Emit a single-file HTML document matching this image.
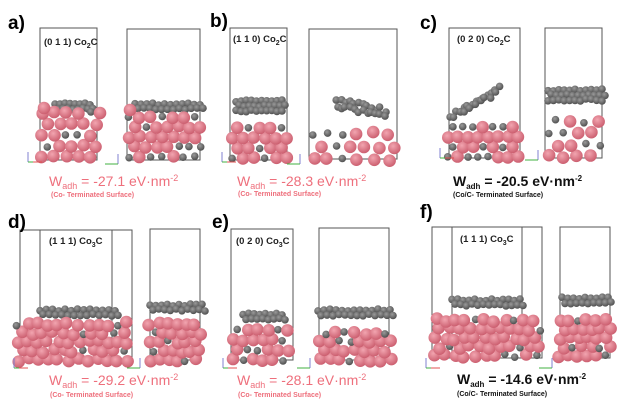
<!DOCTYPE html>
<html><head><meta charset="utf-8"><style>
body{margin:0;background:#fff;width:628px;height:409px;overflow:hidden}
svg{display:block}
.lbl{font-family:"Liberation Sans",sans-serif;font-weight:bold;font-size:19px;fill:#000}
.t{font-family:"Liberation Sans",sans-serif;font-weight:bold;font-size:9.5px;fill:#222}
.w{font-family:"Liberation Sans",sans-serif;font-size:14px}
.s{font-family:"Liberation Sans",sans-serif;font-size:7px;font-weight:bold}
</style></head><body>
<svg id="s" width="628" height="409" xmlns="http://www.w3.org/2000/svg">
<defs>
<radialGradient id="pk" cx="0.4" cy="0.35" r="0.7"><stop offset="0" stop-color="#f2a5b0"/><stop offset="1" stop-color="#c95a6b"/></radialGradient>
<radialGradient id="gy" cx="0.4" cy="0.35" r="0.7"><stop offset="0" stop-color="#9a9a9a"/><stop offset="1" stop-color="#4a4a4a"/></radialGradient>
</defs>
<g fill="none" stroke="#555" stroke-width="1">
<rect x="40" y="28" width="57" height="132"/><rect x="127" y="29" width="73" height="131"/>
<rect x="230" y="28" width="57" height="132"/><rect x="309" y="29" width="88" height="130"/>
<rect x="449" y="28" width="71" height="130"/><rect x="545" y="28" width="57" height="130"/>
<rect x="20" y="230" width="112" height="130"/><line x1="40" y1="230" x2="40" y2="360"/><line x1="112" y1="230" x2="112" y2="360"/><rect x="150" y="229" width="50" height="131"/>
<rect x="231" y="229" width="62" height="131"/><rect x="319" y="228" width="70" height="132"/>
<rect x="432" y="227" width="110" height="131"/><line x1="452" y1="227" x2="452" y2="358"/><line x1="522" y1="227" x2="522" y2="358"/><rect x="560" y="227" width="50" height="131"/>
</g>
<g id="atoms"></g>
<text class="lbl" x="8" y="29">a)</text><text class="lbl" x="210" y="27">b)</text><text class="lbl" x="420" y="29">c)</text>
<text class="lbl" x="8" y="228">d)</text><text class="lbl" x="212" y="228">e)</text><text class="lbl" x="420" y="218">f)</text>
<text class="t" x="44" y="45">(0 1 1) Co<tspan font-size="7" dy="3">2</tspan><tspan dy="-3">C</tspan></text>
<text class="t" x="233" y="42">(1 1 0) Co<tspan font-size="7" dy="3">2</tspan><tspan dy="-3">C</tspan></text>
<text class="t" x="457" y="42">(0 2 0)  Co<tspan font-size="7" dy="3">2</tspan><tspan dy="-3">C</tspan></text>
<text class="t" x="49" y="244">(1 1 1)  Co<tspan font-size="7" dy="3">3</tspan><tspan dy="-3">C</tspan></text>
<text class="t" x="236" y="244">(0 2 0)  Co<tspan font-size="7" dy="3">3</tspan><tspan dy="-3">C</tspan></text>
<text class="t" x="460" y="242">(1 1 1)  Co<tspan font-size="7" dy="3">3</tspan><tspan dy="-3">C</tspan></text>
<g fill="#ee6f7c">
<text class="w" x="49" y="186">W<tspan font-size="9" dy="3">adh</tspan><tspan dy="-3"> = -27.1 eV·nm</tspan><tspan font-size="9" dy="-5">-2</tspan></text>
<text class="s" x="51" y="197">(Co- Terminated Surface)</text>
<text class="w" x="237" y="186">W<tspan font-size="9" dy="3">adh</tspan><tspan dy="-3"> = -28.3 eV·nm</tspan><tspan font-size="9" dy="-5">-2</tspan></text>
<text class="s" x="238" y="196">(Co- Terminated Surface)</text>
<text class="w" x="49" y="385">W<tspan font-size="9" dy="3">adh</tspan><tspan dy="-3"> = -29.2 eV·nm</tspan><tspan font-size="9" dy="-5">-2</tspan></text>
<text class="s" x="50" y="397">(Co- Terminated Surface)</text>
<text class="w" x="237" y="385">W<tspan font-size="9" dy="3">adh</tspan><tspan dy="-3"> = -28.1 eV·nm</tspan><tspan font-size="9" dy="-5">-2</tspan></text>
<text class="s" x="238" y="397">(Co- Terminated Surface)</text>
</g>
<g fill="#111">
<text class="w" x="453" y="186" font-weight="bold" font-size="13">W<tspan font-size="8" dy="3">adh</tspan><tspan dy="-3"> = -20.5 eV·nm</tspan><tspan font-size="8" dy="-5">-2</tspan></text>
<text class="s" x="453" y="197">(Co/C- Terminated Surface)</text>
<text class="w" x="457" y="384" font-weight="bold" font-size="13">W<tspan font-size="8" dy="3">adh</tspan><tspan dy="-3"> = -14.6 eV·nm</tspan><tspan font-size="8" dy="-5">-2</tspan></text>
<text class="s" x="457" y="396">(Co/C- Terminated Surface)</text>
</g>
<g id="axes" stroke-width="1"></g>
</svg>
<script>
var seed=7;function r(){seed=(seed*9301+49297)%233280;return seed/233280;}
var g=document.getElementById('atoms'),h='';
function P(x,y,rr){h+='<circle cx="'+x.toFixed(1)+'" cy="'+y.toFixed(1)+'" r="'+(rr||6.3)+'" fill="url(#pk)"/>';}
function C(x,y){h+='<circle cx="'+x.toFixed(1)+'" cy="'+y.toFixed(1)+'" r="3.8" fill="url(#gy)"/>';}
function slab(x0,x1,y0,y1,dx,dy,j,cf){
 for(var y=y1;y>=y0;y-=dy){var off=((Math.round((y1-y)/dy))%2)*dx/2;
  for(var x=x0+off;x<=x1;x+=dx){ if(r()<cf) C(x+(r()-.5)*j,y+(r()-.5)*j); else P(x+(r()-.5)*j,y+(r()-.5)*j);}}}
function clayer(x0,x1,y0,y1,n){for(var i=0;i<n;i++){var t=i/(n-1);C(x0+(x1-x0)*t+(r()-.5)*3,y0+(y1-y0)*t+(r()-.5)*4);}}
function cbelt(x0,x1,y,n,rows){for(var k=0;k<rows;k++)for(var i=0;i<n;i++)C(x0+(x1-x0)*i/(n-1)+(k%2)*3,y+k*5+(r()-.5)*2);}
cbelt(55,90,104,8,2);slab(42,98,112,157,12,11,2,0.3);P(44,108);P(100,113);
cbelt(135,200,104,12,2);slab(129,202,115,157,11,10,2,0.25);P(130,110);
cbelt(236,282,101,10,3);slab(232,289,120,158,11,10,1,0.25);
clayer(337,385,100,110,12);clayer(337,385,106,116,12);
slab(313,398,123,160,15,13,4,0.3);
clayer(455,500,113,88,12);clayer(450,495,118,94,10);slab(448,518,120,157,10,10,1,0.25);
cbelt(548,602,90,11,3);slab(550,602,115,157,14,12,4,0.25);
cbelt(40,115,310,13,2);slab(18,132,322,360,10,9,4,0.12);
cbelt(150,202,305,10,2);slab(150,202,320,360,9,9,3,0.12);
cbelt(243,282,314,8,2);slab(233,292,327,360,10,10,2,0.2);
cbelt(318,390,310,13,2);slab(320,392,325,360,10,9,3,0.15);
cbelt(452,520,300,13,2);slab(435,540,318,356,10,9,4,0.12);
cbelt(562,608,298,9,2);slab(560,610,315,356,9,9,3,0.12);
g.innerHTML=h;
var a='',ax=[[28,162,1],[118,164,0],[222,162,1],[300,164,0],[440,158,1],[538,160,0],[14,368,1],[140,368,0],[223,368,1],[310,368,0],[426,368,1],[552,368,0]];
ax.forEach(function(p){var x=p[0],y=p[1];if(p[2]){a+='<line x1="'+x+'" y1="'+y+'" x2="'+x+'" y2="'+(y-10)+'" stroke="#8080d0"/><line x1="'+x+'" y1="'+y+'" x2="'+(x+14)+'" y2="'+y+'" stroke="#e05050"/><line x1="'+x+'" y1="'+y+'" x2="'+(x+5)+'" y2="'+y+'" stroke="#40b040"/>';}
else{a+='<line x1="'+x+'" y1="'+y+'" x2="'+x+'" y2="'+(y-10)+'" stroke="#8080d0"/><line x1="'+x+'" y1="'+y+'" x2="'+(x-13)+'" y2="'+y+'" stroke="#40b040"/>';}});
document.getElementById('axes').innerHTML=a;
</script>
</body></html>
